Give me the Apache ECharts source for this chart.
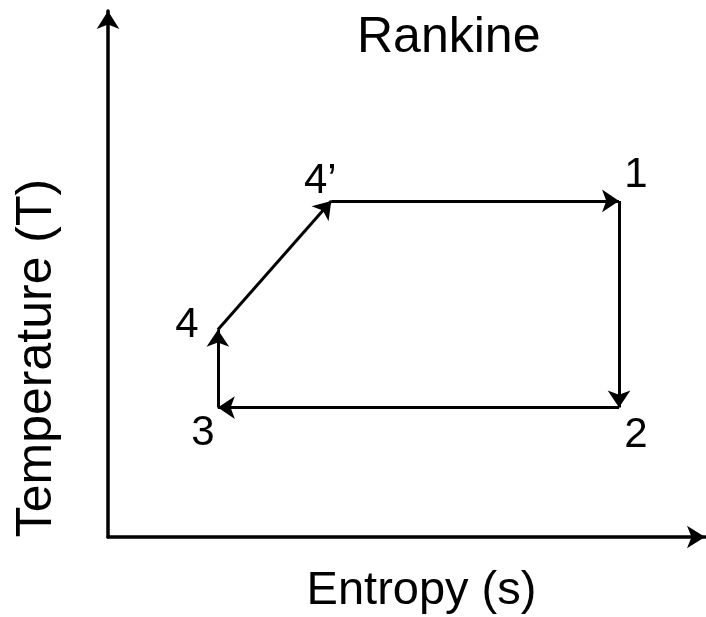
<!DOCTYPE html>
<html>
<head>
<meta charset="utf-8">
<script src="https://cdn.jsdelivr.net/npm/echarts@6/dist/echarts.min.js"></script>
<style>
html, body { margin: 0; padding: 0; background: #fff; }
#chart { width: 706px; height: 617px; }
</style>
</head>
<body>
<div id="chart"></div>
<script>
// state points of the cycle (arbitrary s / T units)
var states = ['1', '2', '3', '4', '4’'];
var entropy = [85.6, 85.6, 18.4, 18.4, 37.4];
var temperature = [63.9, 24.6, 24.6, 39.4, 63.9];
// path order: 4' -> 1 -> 2 -> 3 -> 4 -> 4'
var cycle = [4, 0, 1, 2, 3, 4];

var font = 'Liberation Sans, Arial, sans-serif';
// where each state label sits relative to its point
var labelOffsets = [[17, -25], [17, 28], [-15, 26], [-31, -4], [-11, -19]];

var chart = echarts.init(document.getElementById('chart'));

var segs = [];
for (var i = 0; i < cycle.length - 1; i++) {
  var a = cycle[i], b = cycle[i + 1];
  segs.push({ coords: [[entropy[a], temperature[a]], [entropy[b], temperature[b]]] });
}

var pts = states.map(function (name, i) {
  return {
    name: name,
    value: [entropy[i], temperature[i]],
    label: { offset: labelOffsets[i] }
  };
});

var axisLine = {
  show: true,
  symbol: ['none', 'arrow'],
  symbolSize: [17, 18],
  lineStyle: { color: '#000', width: 3.5 }
};

var option = {
  animation: false,
  backgroundColor: '#fff',
  title: {
    text: 'Rankine',
    left: 357,
    top: 13,
    padding: 0,
    textStyle: { color: '#000', fontSize: 50, fontWeight: 'normal', fontFamily: font }
  },
  grid: { left: 108, right: 1, top: 11, bottom: 80, containLabel: false, outerBoundsMode: 'none' },
  xAxis: {
    type: 'value',
    min: 0,
    max: 100,
    name: 'Entropy (s)',
    nameLocation: 'middle',
    nameGap: 31,
    nameTextStyle: { color: '#000', fontSize: 47, fontFamily: font, padding: [0, 0, 0, 30] },
    axisLine: axisLine,
    axisTick: { show: false },
    axisLabel: { show: false },
    splitLine: { show: false }
  },
  yAxis: {
    type: 'value',
    min: 0,
    max: 100,
    name: 'Temperature (T)',
    nameLocation: 'middle',
    nameGap: 46,
    nameTextStyle: { color: '#000', fontSize: 50, fontFamily: font, padding: [0, 168, 0, 0] },
    axisLine: axisLine,
    axisTick: { show: false },
    axisLabel: { show: false },
    splitLine: { show: false }
  },
  series: [
    {
      type: 'lines',
      coordinateSystem: 'cartesian2d',
      data: segs,
      symbol: ['none', 'arrow'],
      symbolSize: [15, 17],
      lineStyle: { color: '#000', width: 3, opacity: 1 }
    },
    {
      type: 'scatter',
      data: pts,
      symbolSize: 1,
      itemStyle: { color: 'transparent', opacity: 1 },
      label: {
        show: true,
        position: 'inside',
        formatter: '{b}',
        color: '#000',
        opacity: 1,
        fontSize: 42,
        fontFamily: font
      }
    }
  ]
};
chart.setOption(option);
</script>
</body>
</html>
